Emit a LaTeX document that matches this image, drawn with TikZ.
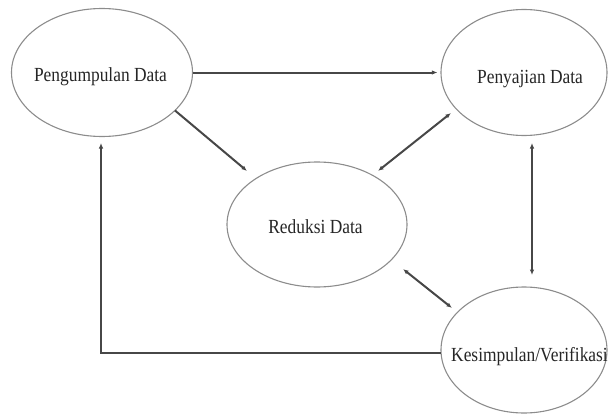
\documentclass[tikz,border=0pt]{standalone}
\usepackage{fontspec}
\setmainfont{Liberation Serif}
\usetikzlibrary{shapes.geometric,arrows.meta,calc}
\begin{document}
\begin{tikzpicture}[x=1pt,y=-1pt,
  oval/.style={ellipse,draw=black!45,line width=1.1pt,inner sep=0pt},
  lbl/.style={anchor=base,text=black!85,inner sep=0pt,font=\fontsize{17.4}{20}\selectfont},
  tip/.tip={Latex[length=5.5pt,width=4.5pt]},
  conn/.style={draw=black!72,line width=2pt,-tip},
  bconn/.style={draw=black!72,line width=2pt,tip-tip}]
\useasboundingbox (0,0) rectangle (608,415);
\clip (0,0) rectangle (608,415);
% ellipses
\node[oval,minimum width=181pt,minimum height=128pt] (e1) at (102,72.5) {};
\node[oval,minimum width=166pt,minimum height=126pt] (e2) at (524,72.5) {};
\node[oval,minimum width=180pt,minimum height=125pt] (e3) at (317,224.5) {};
\node[oval,minimum width=166pt,minimum height=126pt] (e4) at (524,350) {};
% texts
\node[lbl] (t1) at (100.5,81.5) {\scalebox{1}[1.15]{Pengumpulan Data}};
\node[lbl] (t2) at (530,83.3) {\scalebox{1}[1.15]{Penyajian Data}};
\node[lbl] (t3) at (315.5,233.3) {\scalebox{1}[1.15]{Reduksi Data}};
\node[lbl,anchor=base west] (t4) at (451,361.7) {\scalebox{1}[1.15]{Kesimpulan/Verifikasi}};
% connectors
\draw[conn,shorten >=3pt] (e1.east) -- (e2.west);
\draw[conn] ([shift={(73,38)}]e1.center) -- ([shift={(-70,-53.5)}]e3.center);
\draw[bconn] ([shift={(-73,40.5)}]e2.center) -- ([shift={(61,-53.5)}]e3.center);
\draw[bconn] ([shift={(8,70.5)}]e2.center) -- ([shift={(8,-75)}]e4.center);
\draw[bconn] ([shift={(86,44.5)}]e3.center) -- ([shift={(-72,-42)}]e4.center);
\draw[conn] ([shift={(-83,2.5)}]e4.center) -| ([shift={(-1,70.5)}]e1.center);
\end{tikzpicture}
\end{document}
